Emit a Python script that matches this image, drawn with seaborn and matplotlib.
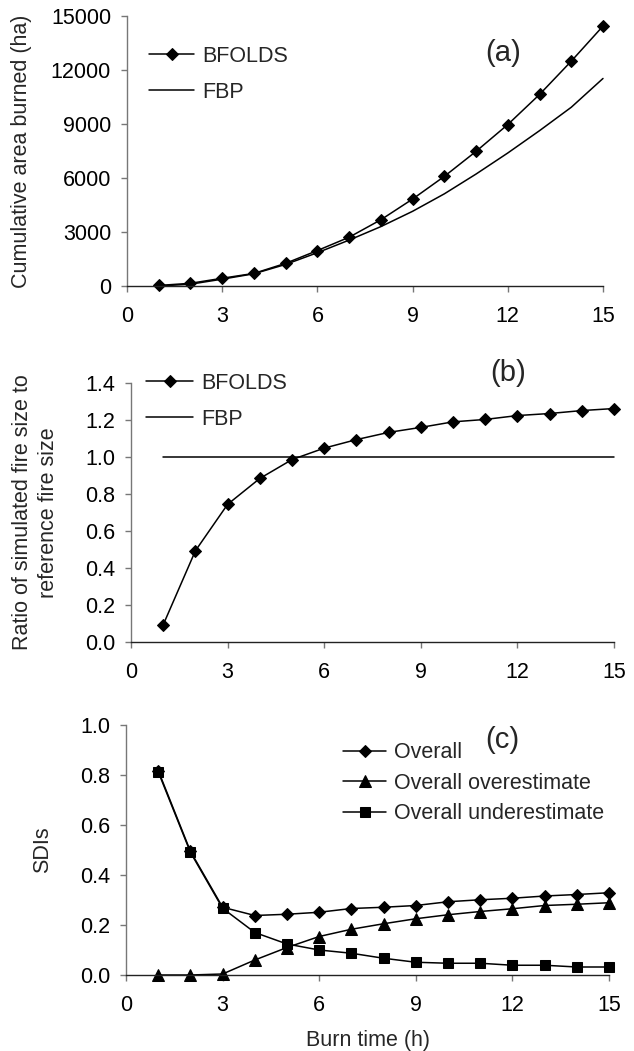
import numpy as np
import pandas as pd
import matplotlib
matplotlib.use("Agg")
import matplotlib.pyplot as plt
import seaborn as sns

# data
hours = [1, 2, 3, 4, 5, 6, 7, 8, 9, 10, 11, 12, 13, 14, 15]

bfolds_area = [30, 150, 430, 700, 1260, 1970, 2710, 3680, 4830, 6090, 7480, 8970, 10640, 12490, 14440]
fbp_area = [0, 100, 380, 680, 1200, 1850, 2550, 3300, 4150, 5120, 6220, 7390, 8630, 9930, 11530]

bfolds_ratio = [0.093, 0.493, 0.744, 0.884, 0.986, 1.048, 1.094, 1.133, 1.160, 1.190,
                1.203, 1.224, 1.235, 1.251, 1.262]
fbp_ratio = [1.0, 1.0, 1.0, 1.0, 1.0, 1.0, 1.0, 1.0, 1.0, 1.0, 1.0, 1.0, 1.0, 1.0, 1.0]

sdi_overall = [0.818, 0.495, 0.271, 0.238, 0.243, 0.251, 0.266, 0.271, 0.278, 0.293,
               0.301, 0.307, 0.316, 0.322, 0.329]
sdi_over = [0.0, 0.0, 0.004, 0.060, 0.110, 0.154, 0.183, 0.205, 0.225, 0.241,
            0.254, 0.265, 0.278, 0.283, 0.289]
sdi_under = [0.813, 0.491, 0.267, 0.170, 0.124, 0.100, 0.087, 0.067, 0.051, 0.047,
             0.047, 0.039, 0.039, 0.032, 0.032]

xticks = [0, 3, 6, 9, 12, 15]

sns.set_style("ticks")
plt.rcParams['font.family'] = ['Liberation Sans', 'DejaVu Sans']
FS = 15.5

fig = plt.figure(figsize=(6.34, 10.51), dpi=100)
ax_a = fig.add_axes([127 / 634, 1 - 286 / 1051, 476 / 634, 270 / 1051])
ax_b = fig.add_axes([131 / 634, 1 - 642 / 1051, 483 / 634, 259 / 1051])
ax_c = fig.add_axes([126 / 634, 1 - 975 / 1051, 483 / 634, 250 / 1051])


def style_axes(ax, ymax, ystep, fmt):
    ax.set_xlim(0, 15)
    ax.set_ylim(0, ymax)
    ax.set_xticks(xticks)
    yt = np.arange(0, ymax + ystep / 2, ystep)
    ax.set_yticks(yt)
    ax.set_yticklabels([fmt.format(v) for v in yt])
    sns.despine(ax=ax)
    ax.spines['left'].set_color('#777777')
    ax.spines['bottom'].set_color('#222222')
    ax.spines['left'].set_linewidth(1.0)
    ax.spines['bottom'].set_linewidth(1.0)
    ax.tick_params(axis='both', direction='out', length=4.5, width=1.0,
                   color='#777777', labelsize=FS, labelcolor='black')
    ax.tick_params(axis='x', pad=10)
    ax.tick_params(axis='y', pad=7)


line_kw = dict(color='black', linewidth=1.1, clip_on=False)

# (a) cumulative area burned
sns.lineplot(x=hours, y=bfolds_area, ax=ax_a, marker='D', markersize=6.5,
             markeredgecolor='black', label='BFOLDS', **line_kw)
sns.lineplot(x=hours, y=fbp_area, ax=ax_a, label='FBP', **line_kw)
style_axes(ax_a, 15000, 3000, "{:.0f}")
ax_a.set_ylabel('Cumulative area burned (ha)', fontsize=FS)
ax_a.yaxis.set_label_coords(-0.2, 0.5)
ax_a.legend(loc='center left', bbox_to_anchor=(0.7, 11770), bbox_transform=ax_a.transData,
            frameon=False, fontsize=FS, handlelength=2.1, handletextpad=0.35,
            labelspacing=0.7, borderpad=0, borderaxespad=0)
ax_a.text(11.84, 12958, '(a)', fontsize=21, ha='center', va='center')

# (b) ratio of simulated to reference fire size
sns.lineplot(x=hours, y=bfolds_ratio, ax=ax_b, marker='D', markersize=6.5,
             markeredgecolor='black', label='BFOLDS', **line_kw)
sns.lineplot(x=hours, y=fbp_ratio, ax=ax_b, label='FBP', **line_kw)
style_axes(ax_b, 1.4, 0.2, "{:.1f}")
ax_b.set_ylabel('Ratio of simulated fire size to\nreference fire size', fontsize=FS,
                linespacing=1.3)
ax_b.yaxis.set_label_coords(-0.15, 0.5)
ax_b.legend(loc='center left', bbox_to_anchor=(0.47, 1.3), bbox_transform=ax_b.transData,
            frameon=False, fontsize=FS, handlelength=2.2, handletextpad=0.35,
            labelspacing=0.7, borderpad=0, borderaxespad=0)
ax_b.text(11.7, 1.454, '(b)', fontsize=21, ha='center', va='center')

# (c) SDIs
sns.lineplot(x=hours, y=sdi_overall, ax=ax_c, marker='D', markersize=6.5,
             markeredgecolor='black', label='Overall', **line_kw)
sns.lineplot(x=hours, y=sdi_over, ax=ax_c, marker='^', markersize=8.5,
             markeredgecolor='black', label='Overall overestimate', **line_kw)
sns.lineplot(x=hours, y=sdi_under, ax=ax_c, marker='s', markersize=6.5,
             markeredgecolor='black', label='Overall underestimate', **line_kw)
style_axes(ax_c, 1.0, 0.2, "{:.1f}")
ax_c.set_ylabel('SDIs', fontsize=FS)
ax_c.yaxis.set_label_coords(-0.15, 0.5)
ax_c.set_xlabel('Burn time (h)', fontsize=FS, labelpad=10)
ax_c.legend(loc='center left', bbox_to_anchor=(6.74, 0.767), bbox_transform=ax_c.transData,
            frameon=False, fontsize=FS, handlelength=2.0, handletextpad=0.35,
            labelspacing=0.45, borderpad=0, borderaxespad=0)
ax_c.text(11.7, 0.94, '(c)', fontsize=21, ha='center', va='center')

fig.savefig('out.png', dpi=100)
